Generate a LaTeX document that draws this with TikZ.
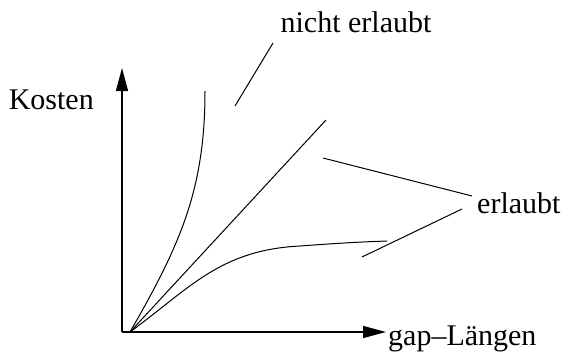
\documentclass[tikz,border=0pt]{standalone}
\usepackage{fontspec}
\setmainfont{Liberation Serif}
\usetikzlibrary{arrows.meta}

\begin{document}
\begin{tikzpicture}[
    x={(1pt,0pt)}, y={(0pt,-1pt)},
    every node/.style={font=\fontsize{30}{35}\selectfont, inner sep=0pt},
    axis/.style={line width=1.3pt, -{Triangle[length=23pt, width=12pt]}},
    cost/.style={line width=1pt},
    pointer/.style={line width=1pt},
  ]
    \useasboundingbox (0,0) rectangle (564,356);

    % -------- axes --------
    \coordinate (origin) at (122,332);
    \coordinate (ytip) at (122,68);
    \coordinate (xtip) at (386,332);
    \draw[axis] (origin) -- (ytip);
    \draw[axis] (origin) -- (xtip);
    \node[anchor=east] (kosten) at (94,100) {Kosten};
    \node[anchor=west] (laengen) at (388,339) {gap–Längen};

    % -------- cost functions --------
    \coordinate (start) at (130,332);
    \draw[cost] (start) .. controls (180,245) and (205,190) .. (205,91);
    \draw[cost] (start) -- (326,120);
    \draw[cost] (start) .. controls (190,288) and (220,250) .. (300,246)
      .. controls (340,243) and (360,242) .. (387,241);

    % -------- labels and pointers --------
    \node (nerl) at (356,22) {nicht erlaubt};
    \node[anchor=west] (erl) at (477,203) {erlaubt};
    \coordinate (p1a) at (273,43);
    \coordinate (p1b) at (235,106);
    \coordinate (p2a) at (472,196);
    \coordinate (p2b) at (323,158);
    \coordinate (p3a) at (462,209);
    \coordinate (p3b) at (362,257);
    \draw[pointer] (p1a) -- (p1b);
    \draw[pointer] (p2a) -- (p2b);
    \draw[pointer] (p3a) -- (p3b);
  \end{tikzpicture}
\end{document}
